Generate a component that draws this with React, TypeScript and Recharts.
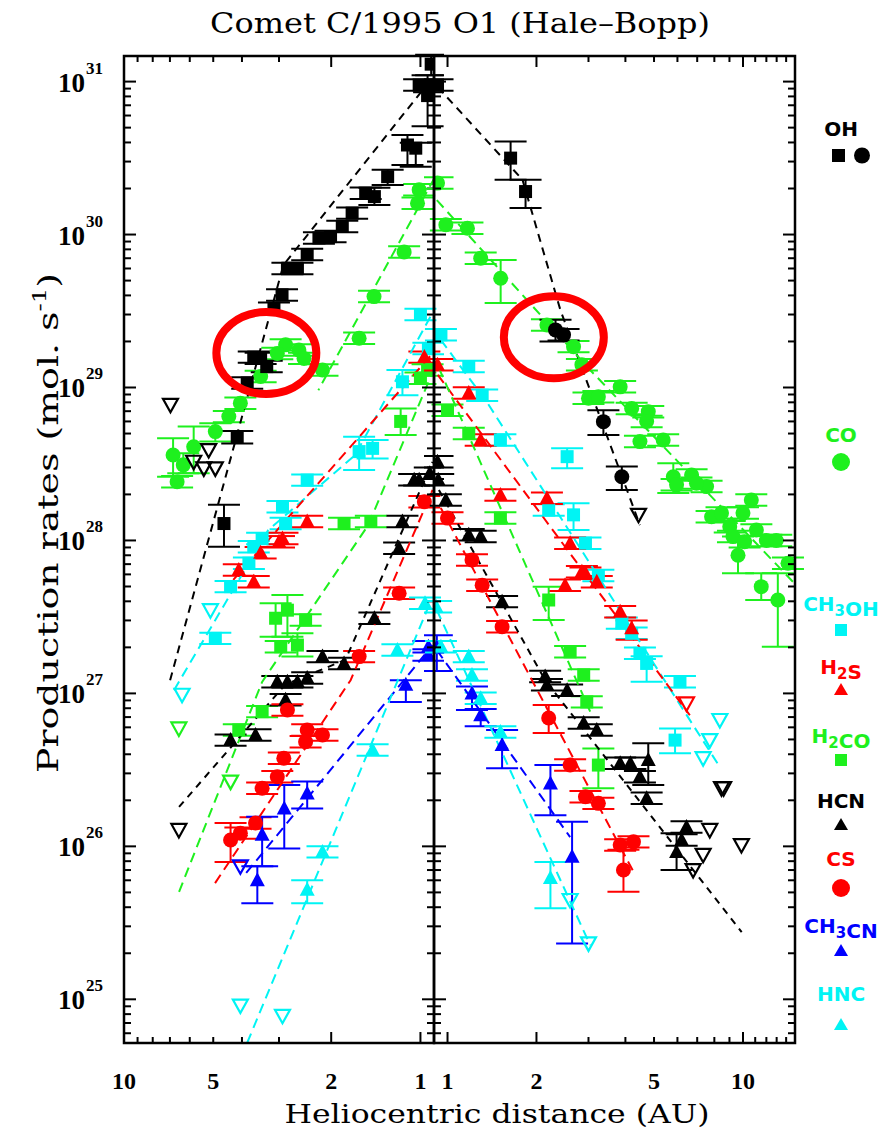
import React from 'react';
import { ScatterChart, Scatter, XAxis, YAxis, ErrorBar, ReferenceDot } from 'recharts';

type P = number[];

const BLACK = '#000000';
const GREEN = '#1ef01e';
const CYAN = '#00f4f4';
const RED = '#ff0000';
const BLUE = '#0000ff';

// ---------- axis ticks ----------
const YMIN = 5.18e24;
const YMAX = 1.47e31;
const Y_TICKS: number[] = [];
for (let e = 24; e <= 31; e++) {
  for (let m = 1; m <= 9; m++) {
    const v = m * Math.pow(10, e);
    if (v >= YMIN && v <= YMAX) Y_TICKS.push(v);
  }
}
const X_DOMAIN_PRE = [0.9, 10];
const X_DOMAIN_POST = [0.9, 15];
const X_TICKS_PRE = [1, 2, 3, 4, 5, 6, 7, 8, 9, 10];
const X_TICKS_POST = [1, 2, 3, 4, 5, 6, 7, 8, 9, 10, 11, 12, 13, 14, 15];
const X_LABELS = [1, 2, 5, 10];
const X_LONG = [1, 2, 10];

// ---------- data: [r (AU), Q (mol/s), lower, upper] ----------
// Pre-perihelion (left panel)
const OH_PRE: P[] = [
  [0.92, 1.3e31, 1.1e31, 1.5e31], [1.01, 9.5e30], [0.935, 9.3e30], [0.946, 8.1e30, 5.1e30, 1.1e31],
  [1.106, 3.85e30, 2.85e30, 4.48e30], [1.037, 3.67e30, 2.77e30, 3.98e30], [1.29, 2.39e30, 2.11e30, 2.65e30],
  [1.43, 1.77e30, 1.56e30, 2.02e30], [1.53, 1.86e30], [1.7, 1.38e30], [1.835, 1.13e30], [2.01, 9.7e29],
  [2.2, 9.5e29], [2.41, 7.4e29], [2.6, 6.0e29], [2.81, 6.0e29], [2.93, 4.03e29], [3.12, 3.3e29],
  [3.46, 1.55e29], [3.65, 1.58e29], [3.3, 1.37e29], [3.84, 1.07e29], [4.15, 4.77e28, 4.3e28, 5.2e28],
  [4.6, 1.29e28, 9.1e27, 1.71e28],
];
const OH_PRE_UL: P[] = [[6.97, 7.7e28], [5.18, 3.9e28], [5.82, 3.27e28], [5.38, 2.96e28], [4.92, 2.96e28]];
const OH_PRE_LINE: P[] = [[6.99, 1.22e27], [2.9, 6.3e29], [0.911, 1.06e31]];

const CO_PRE: P[] = [
  [1.01, 1.96e30], [1.023, 1.6e30], [1.135, 7.7e29], [1.434, 3.93e29], [1.61, 2.1e29], [2.14, 1.3e29],
  [2.85, 1.9e29], [2.57, 1.76e29], [3.04, 1.67e29], [2.47, 1.55e29], [3.46, 1.18e29], [4.05, 7.9e28],
  [4.43, 6.45e28], [4.92, 5.15e28, 4.43e28, 5.84e28], [5.82, 4.1e28, 2.75e28, 5.55e28],
  [6.83, 3.62e28, 2.61e28, 4.66e28], [6.31, 3.12e28, 2.75e28, 3.72e28], [6.62, 2.42e28],
];
const CO_PRE_LINE: P[] = [[0.897, 2.34e30], [2.21, 9.6e28]];

const CH3OH_PRE: P[] = [
  [1.0, 3.0e29], [0.94, 1.8e29], [1.15, 1.09e29, 8.9e28, 1.3e29], [1.45, 4.0e28, 3.44e28, 4.54e28],
  [1.61, 3.81e28, 2.89e28, 4.77e28], [2.41, 2.48e28], [2.92, 1.66e28], [2.85, 1.29e28], [3.42, 1.03e28],
  [3.65, 9.1e27], [3.79, 7.1e27], [4.37, 4.99e27], [4.92, 2.29e27],
];
const CH3OH_PRE_UL: P[] = [[5.11, 3.5e27], [6.37, 9.8e26]];
const CH3OH_PRE_LINE: P[] = [[6.78, 1.05e27], [3.26, 1.17e28], [1.66, 3.62e28], [0.9, 3.21e29]];

const H2S_PRE: P[] = [
  [0.97, 1.58e29], [2.41, 1.33e28], [2.92, 1.03e28], [3.0, 9.8e27], [3.46, 8.3e27], [4.1, 6.4e27], [3.65, 5.37e27],
];
const H2S_PRE_LINE: P[] = [[4.28, 5.52e27], [0.92, 1.63e29]];

const H2CO_PRE: P[] = [
  [0.946, 1.3e29], [1.0, 1.15e29], [1.166, 6.0e28, 4.9e28, 7.3e28], [1.47, 1.33e28], [1.81, 1.29e28],
  [2.44, 3.02e27], [2.81, 3.5e27, 2.35e27, 4.4e27], [3.08, 3.1e27, 2.35e27, 3.88e27], [2.96, 2.02e27],
  [2.6, 2.07e27, 1.74e27, 2.47e27], [3.42, 7.6e26], [4.1, 5.77e26],
];
const H2CO_PRE_UL: P[] = [[6.53, 5.9e26], [4.37, 2.65e26]];
const H2CO_PRE_LINE: P[] = [[6.52, 5.04e25], [3.42, 1.19e27], [1.5, 1.26e28], [0.91, 1.26e29]];

const HCN_PRE: P[] = [
  [0.93, 2.75e28], [1.01, 2.49e28], [1.05, 2.49e28], [1.15, 1.33e28], [1.18, 8.9e27], [1.43, 3.1e27],
  [1.81, 1.57e27], [2.14, 1.74e27], [2.41, 1.26e27], [2.6, 1.19e27], [2.81, 1.19e27], [3.04, 1.19e27],
  [2.85, 9.1e26], [3.6, 5.35e26], [4.37, 4.95e26],
];
const HCN_PRE_UL: P[] = [[6.53, 1.28e26]];
const HCN_PRE_LINE: P[] = [[6.52, 1.81e26], [2.86, 1.14e27], [1.79, 1.66e27], [0.91, 3.26e28]];

const CS_PRE: P[] = [
  [0.97, 1.79e28], [1.18, 4.52e27], [1.61, 1.74e27], [2.81, 7.8e26], [2.41, 5.77e26], [2.14, 5.35e26],
  [2.44, 4.83e26], [2.89, 3.77e26], [3.04, 2.85e26], [3.42, 2.4e26], [3.6, 1.42e26], [4.05, 1.22e26],
  [4.37, 1.1e26, 7.9e25, 1.42e26],
];
const CS_PRE_LINE: P[] = [[4.93, 5.75e25], [1.72, 1.22e27], [0.91, 2.14e28]];

const CH3CN_PRE: P[] = [
  [0.94, 2.02e27], [0.94, 1.78e27], [1.12, 1.14e27, 8.8e26, 1.22e27], [2.41, 2.22e26, 1.77e26, 2.65e26],
  [2.88, 1.77e26, 9.7e25, 2.52e26], [3.42, 1.19e26, 7.4e25, 1.56e26], [3.55, 6.0e25, 4.25e25, 7.4e25],
];
const CH3CN_PRE_UL: P[] = [[4.05, 7.4e25]];
const CH3CN_PRE_LINE: P[] = [[3.87, 6.7e25], [0.91, 2.07e27]];

const HNC_PRE: P[] = [
  [0.965, 3.88e27], [1.196, 1.92e27], [1.45, 4.27e26], [2.14, 9.2e25], [2.41, 5.2e25, 4.25e25, 6.0e25],
];
const HNC_PRE_UL: P[] = [[4.05, 9.1e24], [2.92, 7.8e24]];
const HNC_PRE_LINE: P[] = [[3.84, 5.2e24], [0.92, 4.08e27]];

// Post-perihelion (right panel)
const OH_POST_SQ: P[] = [[0.925, 9.5e30], [1.635, 3.16e30, 2.28e30, 4.06e30], [1.837, 1.91e30, 1.49e30, 2.28e30]];
const OH_POST_CI: P[] = [
  [2.32, 2.38e29, 2.0e29, 2.77e29], [2.47, 2.21e29], [3.37, 5.98e28, 4.9e28, 7.1e28], [3.89, 2.61e28, 2.14e28, 3.04e28],
];
const OH_POST_UL: P[] = [[4.43, 1.47e28]];
const OH_POST_LINE: P[] = [[0.927, 9.2e30], [1.794, 2.28e30], [2.41, 3.21e29], [4.48, 1.26e28]];

const CO_POST: P[] = [
  [0.925, 2.17e30], [0.987, 1.16e30], [1.168, 1.1e30], [1.295, 7.0e29], [1.513, 5.18e29, 3.57e29, 6.82e29],
  [2.17, 2.56e29], [2.67, 1.85e29], [2.85, 1.41e29], [3.0, 8.5e28], [3.24, 8.7e28], [3.84, 1.01e29],
  [4.2, 7.3e28], [4.78, 6.95e28], [4.72, 6.0e28], [4.48, 4.43e28], [5.37, 4.54e28],
  [5.81, 2.61e28, 2.04e28, 3.2e28], [5.96, 2.31e28], [6.7, 2.68e28], [7.53, 2.25e28], [6.96, 2.37e28],
  [7.83, 1.43e28], [8.46, 1.51e28], [9.02, 1.23e28], [9.25, 1.06e28], [10.0, 1.51e28], [10.67, 1.84e28],
  [10.13, 9.8e27], [9.62, 8.0e27, 6.1e27, 1.06e28], [11.1, 1.17e28], [12.0, 1.0e28], [12.96, 1.0e28],
  [14.2, 7.1e27], [11.53, 4.99e27, 4.08e27, 6.1e27], [13.12, 4.08e27, 2.02e27, 6.1e27],
];
const CO_POST_LINE: P[] = [[0.92, 1.68e30], [3.04, 1.3e29], [14.9, 5.27e27]];

const CH3OH_POST: P[] = [
  [0.95, 2.21e29], [1.18, 1.37e29], [1.31, 8.9e28], [1.51, 4.54e28], [2.54, 3.53e28, 2.97e28, 4.0e28],
  [2.2, 1.58e28], [2.67, 1.47e28, 1.17e28, 1.75e28], [2.93, 9.6e27], [3.24, 5.9e27], [3.89, 2.88e27],
  [4.2, 2.47e27], [4.48, 1.83e27], [4.72, 1.57e27, 1.19e27, 1.75e27], [6.12, 1.19e27],
  [5.89, 4.95e26, 4.06e26, 5.9e26],
];
const CH3OH_POST_UL: P[] = [[8.35, 6.7e26], [7.72, 4.95e26], [7.33, 3.77e26]];
const CH3OH_POST_LINE: P[] = [[0.949, 2.05e29], [1.367, 7.9e28], [8.35, 3.3e26]];

const H2S_POST: P[] = [
  [0.925, 1.41e29], [1.18, 9.2e28], [1.295, 4.54e28], [1.51, 1.98e28], [2.17, 1.89e28], [2.6, 9.6e27],
  [2.85, 6.25e27], [2.93, 6.1e27], [2.5, 5.1e27], [3.2, 5.37e27], [3.84, 3.42e27], [4.2, 2.67e27, 2.24e27, 3.0e27],
];
const H2S_POST_UL: P[] = [[6.44, 8.6e26]];
const H2S_POST_LINE: P[] = [[0.927, 1.21e29], [6.61, 7.2e26]];

const H2CO_POST: P[] = [
  [1.0, 7.1e28], [1.18, 5.0e28], [1.51, 1.4e28], [2.2, 4.08e27, 3.02e27, 4.99e27], [2.6, 1.87e27],
  [2.89, 1.32e27], [2.96, 8.8e26], [3.24, 3.4e26, 2.4e26, 4.37e26],
];
const H2CO_POST_LINE: P[] = [[0.935, 1.34e29], [3.04, 7.6e26]];

const HCN_POST: P[] = [
  [0.925, 3.27e28], [0.93, 2.49e28], [0.987, 1.84e28], [1.18, 1.09e28], [1.295, 1.06e28], [1.53, 3.98e27],
  [2.14, 1.29e27], [2.17, 1.14e27], [2.54, 1.05e27], [2.89, 6.4e26], [3.2, 5.77e26], [3.84, 3.49e26],
  [4.16, 3.49e26], [4.78, 3.67e26, 2.52e26, 4.72e26], [4.48, 2.85e26], [4.72, 2.06e26], [6.44, 1.34e26],
  [6.2, 1.1e26], [5.96, 9.2e25, 7.0e25, 1.22e26],
];
const HCN_POST_UL: P[] = [[8.46, 2.4e26], [8.6, 2.4e26], [7.72, 1.28e26], [9.88, 1.02e26], [7.33, 8.8e25], [6.78, 7.0e25]];
const HCN_POST_LINE: P[] = [[0.935, 2.14e28], [2.14, 1.22e27], [9.9, 2.75e25]];

const CS_POST: P[] = [
  [1.0, 1.4e28], [1.21, 7.45e27], [1.31, 5.1e27], [1.53, 2.73e27], [2.2, 6.9e26, 5.5e26, 8.4e26],
  [2.6, 3.4e26], [2.93, 2.11e26], [3.24, 1.91e26], [3.84, 1.02e26], [4.26, 1.07e26], [3.94, 7.0e25, 5.05e25, 9.5e25],
];
const CS_POST_LINE: P[] = [[0.949, 1.63e28], [4.28, 6.7e25]];

const CH3CN_POST: P[] = [
  [0.92, 2.0e27, 1.4e27, 2.4e27], [1.21, 1.0e27, 7.8e26, 1.11e27], [1.295, 7.2e26, 6.1e26, 7.9e26],
  [1.53, 4.6e26, 3.24e26, 5.77e26], [2.23, 2.58e26, 1.6e26, 3.4e26], [2.64, 8.55e25, 2.32e25, 1.45e26],
];
const CH3CN_POST_LINE: P[] = [[0.92, 1.92e27], [2.6, 1.15e26]];

const HNC_POST: P[] = [
  [0.915, 3.69e27], [0.95, 2.02e27], [1.18, 1.74e27], [1.21, 1.32e27], [1.295, 9.3e26], [1.51, 5.6e26],
  [2.23, 6.2e25, 3.94e25, 7.9e25],
];
const HNC_POST_UL: P[] = [[2.6, 4.46e25], [3.0, 2.32e25]];
const HNC_POST_LINE: P[] = [[0.92, 3.51e27], [3.04, 2.26e25]];

// highlighted regions (ellipse centres)
const MARK_PRE: P = [3.31, 1.68e29];
const MARK_POST: P = [2.29, 2.13e29];

// ---------- helpers ----------
const pts = (a: P[]) =>
  a.map(([x, y, lo, hi]) => ({ x, y, err: [y - (lo ?? y / 1.09), (hi ?? y * 1.09) - y] }));
const seg = (a: P[]) => a.map(([x, y]) => ({ x, y }));

const sqShape = (c: string) => (p: any) => <rect x={p.cx - 6.5} y={p.cy - 6.5} width={13} height={13} fill={c} />;
const ciShape = (c: string) => (p: any) => <circle cx={p.cx} cy={p.cy} r={7.5} fill={c} />;
const trShape = (c: string) => (p: any) => (
  <polygon points={`${p.cx},${p.cy - 8} ${p.cx + 7.5},${p.cy + 6} ${p.cx - 7.5},${p.cy + 6}`} fill={c} />
);
const utShape = (c: string) => (p: any) => (
  <polygon
    points={`${p.cx - 7.5},${p.cy - 6} ${p.cx + 7.5},${p.cy - 6} ${p.cx},${p.cy + 7.5}`}
    fill="none"
    stroke={c}
    strokeWidth={2.2}
  />
);
const noShape = () => <g />;

const lineEl = (k: string, a: P[], c: string, dash = '10 6') => (
  <Scatter
    key={k}
    xAxisId="b"
    yAxisId="l"
    data={seg(a)}
    shape={noShape}
    line={{ stroke: c, strokeWidth: 2, strokeDasharray: dash }}
    isAnimationActive={false}
  />
);
const ptEl = (k: string, a: P[], c: string, shape: any) => (
  <Scatter key={k} xAxisId="b" yAxisId="l" data={pts(a)} shape={shape} fill={c} isAnimationActive={false}>
    <ErrorBar dataKey="err" direction="y" width={16} strokeWidth={2} stroke={c} />
  </Scatter>
);
const ulEl = (k: string, a: P[], c: string) => (
  <Scatter key={k} xAxisId="b" yAxisId="l" data={seg(a)} shape={utShape(c)} fill={c} isAnimationActive={false} />
);

const ellipse = (p: any) => (
  <ellipse cx={p.cx} cy={p.cy} rx={50} ry={41} fill="none" stroke={RED} strokeWidth={8} />
);

// ---------- tick renderers ----------
const TICK_FONT = 'Liberation Serif, serif';
const isMajorY = (v: number) => {
  const lg = Math.log10(v);
  return Math.abs(lg - Math.round(lg)) < 1e-6;
};
const yTick = (side: 'label' | 'in' | 'back') => (props: any) => {
  const { x, y, payload } = props;
  const v = payload.value;
  const major = isMajorY(v);
  const len = major ? 12 : 7;
  const dir = side === 'back' ? -1 : 1;
  return (
    <g>
      <path d={`M${x},${y}H${x + dir * len}`} stroke="#000" strokeWidth={2} fill="none" />
      {side === 'label' && major ? (
        <g fontFamily={TICK_FONT} fontWeight="bold" fill="#000">
          <text x={x - 39} y={y + 10} fontSize={27} textAnchor="end">10</text>
          <text x={x - 38} y={y - 8} fontSize={17} textAnchor="start">{Math.round(Math.log10(v))}</text>
        </g>
      ) : null}
    </g>
  );
};
const xTick = (pos: 'bottom' | 'top') => (props: any) => {
  const { x, y, payload } = props;
  const v = payload.value;
  const len = X_LONG.includes(v) ? 11 : 6;
  const dir = pos === 'bottom' ? -1 : 1;
  return (
    <g>
      <path d={`M${x},${y}V${y + dir * len}`} stroke="#000" strokeWidth={2} fill="none" />
      {pos === 'bottom' && X_LABELS.includes(v) ? (
        <text x={x} y={y + 46} textAnchor="middle" fontFamily={TICK_FONT} fontWeight="bold" fontSize={24} fill="#000">
          {v}
        </text>
      ) : null}
    </g>
  );
};

const axisLine = { stroke: '#000', strokeWidth: 2 };

const leftSeries = [
  lineEl('l1', OH_PRE_LINE, BLACK, '8 6'),
  lineEl('l2', CO_PRE_LINE, GREEN),
  lineEl('l3', CH3OH_PRE_LINE, CYAN),
  lineEl('l4', H2S_PRE_LINE, RED),
  lineEl('l5', H2CO_PRE_LINE, GREEN),
  lineEl('l6', HCN_PRE_LINE, BLACK, '7 6'),
  lineEl('l7', CS_PRE_LINE, RED),
  lineEl('l8', CH3CN_PRE_LINE, BLUE),
  lineEl('l9', HNC_PRE_LINE, CYAN),
  ptEl('p1', CO_PRE, GREEN, ciShape(GREEN)),
  ptEl('p2', OH_PRE, BLACK, sqShape(BLACK)),
  ptEl('p3', CH3OH_PRE, CYAN, sqShape(CYAN)),
  ptEl('p4', H2S_PRE, RED, trShape(RED)),
  ptEl('p5', H2CO_PRE, GREEN, sqShape(GREEN)),
  ptEl('p6', HCN_PRE, BLACK, trShape(BLACK)),
  ptEl('p7', CS_PRE, RED, ciShape(RED)),
  ptEl('p8', CH3CN_PRE, BLUE, trShape(BLUE)),
  ptEl('p9', HNC_PRE, CYAN, trShape(CYAN)),
  ulEl('u1', OH_PRE_UL, BLACK),
  ulEl('u2', HCN_PRE_UL, BLACK),
  ulEl('u3', CH3OH_PRE_UL, CYAN),
  ulEl('u4', H2CO_PRE_UL, GREEN),
  ulEl('u5', CH3CN_PRE_UL, BLUE),
  ulEl('u6', HNC_PRE_UL, CYAN),
];

const rightSeries = [
  lineEl('l1', OH_POST_LINE, BLACK, '8 6'),
  lineEl('l2', CO_POST_LINE, GREEN),
  lineEl('l3', CH3OH_POST_LINE, CYAN),
  lineEl('l4', H2S_POST_LINE, RED),
  lineEl('l5', H2CO_POST_LINE, GREEN),
  lineEl('l6', HCN_POST_LINE, BLACK, '7 6'),
  lineEl('l7', CS_POST_LINE, RED),
  lineEl('l8', CH3CN_POST_LINE, BLUE),
  lineEl('l9', HNC_POST_LINE, CYAN),
  ptEl('p1', CO_POST, GREEN, ciShape(GREEN)),
  ptEl('p2', OH_POST_SQ, BLACK, sqShape(BLACK)),
  ptEl('p2b', OH_POST_CI, BLACK, ciShape(BLACK)),
  ptEl('p3', CH3OH_POST, CYAN, sqShape(CYAN)),
  ptEl('p4', H2S_POST, RED, trShape(RED)),
  ptEl('p5', H2CO_POST, GREEN, sqShape(GREEN)),
  ptEl('p6', HCN_POST, BLACK, trShape(BLACK)),
  ptEl('p7', CS_POST, RED, ciShape(RED)),
  ptEl('p8', CH3CN_POST, BLUE, trShape(BLUE)),
  ptEl('p9', HNC_POST, CYAN, trShape(CYAN)),
  ulEl('u1', OH_POST_UL, BLACK),
  ulEl('u2', HCN_POST_UL, BLACK),
  ulEl('u3', CH3OH_POST_UL, CYAN),
  ulEl('u4', H2S_POST_UL, RED),
  ulEl('u6', HNC_POST_UL, CYAN),
];

function axes(domain: number[], ticks: number[], reversed: boolean, leftSide: 'label' | 'in') {
  const common = {
    type: 'number' as const,
    scale: 'log' as const,
    allowDataOverflow: true,
    interval: 0,
    tickSize: 0,
    tickMargin: 0,
    tickLine: false,
    axisLine,
  };
  return [
    <XAxis key="xb" xAxisId="b" dataKey="x" domain={domain} reversed={reversed} ticks={ticks} tick={xTick('bottom')} height={50} {...common} />,
    <XAxis key="xt" xAxisId="t" orientation="top" dataKey="x" domain={domain} reversed={reversed} ticks={ticks} tick={xTick('top')} height={1} {...common} />,
    <YAxis key="yl" yAxisId="l" dataKey="y" domain={[YMIN, YMAX]} ticks={Y_TICKS} tick={yTick(leftSide)} width={leftSide === 'label' ? 124 : 1} {...common} />,
    <YAxis key="yr" yAxisId="r" orientation="right" dataKey="y" domain={[YMIN, YMAX]} ticks={Y_TICKS} tick={yTick('back')} width={1} {...common} />,
  ];
}

// plot frame (page coordinates of the two panels' plotting areas)
const FRAME_TOP = 56;
const FRAME_BOTTOM = 1043;
const FRAME_X = [124, 434, 795];

const LEGEND_FONT = 'DejaVu Sans, sans-serif';

function LegendLabel({ y, color, parts }: { y: number; color: string; parts: [string, string?][] }) {
  return (
    <text x={841} y={y} textAnchor="middle" fontFamily={LEGEND_FONT} fontWeight="bold" fontSize={20} fill={color}>
      {parts.map(([t, sub], i) => (
        <React.Fragment key={i}>
          <tspan>{t}</tspan>
          {sub ? (
            <tspan fontSize={15} dy={5}>
              {sub}
            </tspan>
          ) : null}
          {sub ? <tspan dy={-5}></tspan> : null}
        </React.Fragment>
      ))}
    </text>
  );
}

export default function App() {
  return (
    <div style={{ position: 'relative', width: 885, height: 1128, background: '#fff', overflow: 'hidden' }}>
      <style>{'body{margin:0}'}</style>
      <div style={{ position: 'absolute', left: 0, top: 0 }}>
        <ScatterChart width={444} height={1128} margin={{ top: 55, right: 9, bottom: 35, left: 0 }}>
          {axes(X_DOMAIN_PRE, X_TICKS_PRE, true, 'label')}
          {leftSeries}
          <ReferenceDot xAxisId="b" yAxisId="l" x={MARK_PRE[0]} y={MARK_PRE[1]} r={40} shape={ellipse} ifOverflow="visible" />
        </ScatterChart>
      </div>
      <div style={{ position: 'absolute', left: 424, top: 0 }}>
        <ScatterChart width={384} height={1128} margin={{ top: 55, right: 12, bottom: 35, left: 9 }}>
          {axes(X_DOMAIN_POST, X_TICKS_POST, false, 'in')}
          {rightSeries}
          <ReferenceDot xAxisId="b" yAxisId="l" x={MARK_POST[0]} y={MARK_POST[1]} r={40} shape={ellipse} ifOverflow="visible" />
        </ScatterChart>
      </div>
      <svg width={885} height={1128} style={{ position: 'absolute', left: 0, top: 0, pointerEvents: 'none' }}>
        <rect x={FRAME_X[0]} y={FRAME_TOP} width={FRAME_X[1] - FRAME_X[0]} height={FRAME_BOTTOM - FRAME_TOP} fill="none" stroke="#000" strokeWidth={2.5} />
        <rect x={FRAME_X[1]} y={FRAME_TOP} width={FRAME_X[2] - FRAME_X[1]} height={FRAME_BOTTOM - FRAME_TOP} fill="none" stroke="#000" strokeWidth={2.5} />
        <text x={460} y={33} textAnchor="middle" fontFamily="DejaVu Serif, serif" fontSize={27} textLength={500} lengthAdjust="spacingAndGlyphs" fill="#000">
          Comet C/1995 O1 (Hale–Bopp)
        </text>
        <text x={497} y={1123} textAnchor="middle" fontFamily="DejaVu Serif, serif" fontSize={26} textLength={425} lengthAdjust="spacingAndGlyphs" fill="#000">
          Heliocentric distance (AU)
        </text>
        <text transform="translate(58,523) rotate(-90)" textAnchor="middle" fontFamily="DejaVu Serif, serif" fontSize={28} textLength={500} lengthAdjust="spacingAndGlyphs" fill="#000">
          Production rates (mol. s<tspan fontSize={18} dy={-12}>-1</tspan><tspan dy={12}>)</tspan>
        </text>
        {/* legend */}
        <LegendLabel y={136} color={BLACK} parts={[['OH']]} />
        <rect x={832} y={149} width={13} height={13} fill={BLACK} />
        <circle cx={862} cy={155.5} r={8} fill={BLACK} />
        <LegendLabel y={442} color={GREEN} parts={[['CO']]} />
        <circle cx={841} cy={462} r={9} fill={GREEN} />
        <LegendLabel y={611} color={CYAN} parts={[['CH', '3'], ['OH']]} />
        <rect x={835} y={624} width={12} height={12} fill={CYAN} />
        <LegendLabel y={674} color={RED} parts={[['H', '2'], ['S']]} />
        <polygon points="841,683 848,695 834,695" fill={RED} />
        <LegendLabel y={743} color={GREEN} parts={[['H', '2'], ['CO']]} />
        <rect x={835} y={754} width={12} height={12} fill={GREEN} />
        <LegendLabel y={808} color={BLACK} parts={[['HCN']]} />
        <polygon points="841,818 848,830 834,830" fill={BLACK} />
        <LegendLabel y={866} color={RED} parts={[['CS']]} />
        <circle cx={841} cy={888} r={9} fill={RED} />
        <LegendLabel y={933} color={BLUE} parts={[['CH', '3'], ['CN']]} />
        <polygon points="841,944 848,956 834,956" fill={BLUE} />
        <LegendLabel y={1001} color={CYAN} parts={[['HNC']]} />
        <polygon points="841,1018 848,1030 834,1030" fill={CYAN} />
      </svg>
    </div>
  );
}
